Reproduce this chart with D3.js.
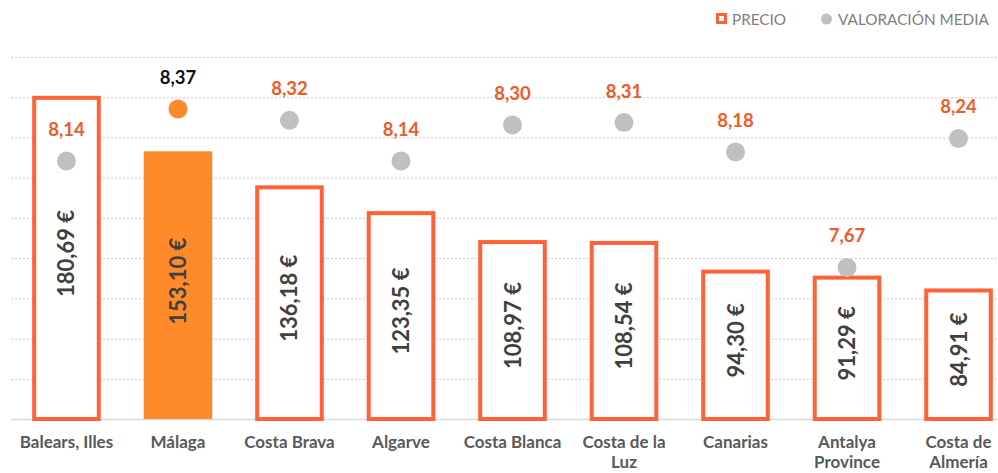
<!DOCTYPE html>
<html><head><meta charset="utf-8">
<script src="https://cdn.jsdelivr.net/npm/d3@7"></script>
<style>body{margin:0;background:#fff}svg{display:block}</style>
</head><body>
<script>
const categories = ["Balears, Illes","Málaga","Costa Brava","Algarve","Costa Blanca","Costa de la Luz","Canarias","Antalya Province","Costa de Almería"];
const categoryLines = [["Balears, Illes"],["Málaga"],["Costa Brava"],["Algarve"],["Costa Blanca"],["Costa de la","Luz"],["Canarias"],["Antalya","Province"],["Costa de","Almería"]];
const precio = [180.69,153.10,136.18,123.35,108.97,108.54,94.30,91.29,84.91];
const precioLabels = ["180,69 €","153,10 €","136,18 €","123,35 €","108,97 €","108,54 €","94,30 €","91,29 €","84,91 €"];
const valoracion = [8.14,8.37,8.32,8.14,8.30,8.31,8.18,7.67,8.24];
const valoracionLabels = ["8,14","8,37","8,32","8,14","8,30","8,31","8,18","7,67","8,24"];
const highlight = "Málaga";
const gridTicks = [20,40,60,80,100,120,140,160,180,200];
const legendLabels = ["PRECIO","VALORACIÓN MEDIA"];

const W=998,H=473;
const svg=d3.select("body").append("svg").attr("width",W).attr("height",H);
const x=d3.scaleBand().domain(categories).range([11,1014]).paddingInner(0.385).paddingOuter(0.19);
const y=d3.scaleLinear().domain([20,200]).range([419,57]);
const y2=d3.scaleLinear().domain([7,8.6]).range([419,57]);
const font="Lato, 'Open Sans', sans-serif";

// gridlines
svg.append("g").selectAll("line").data(gridTicks.slice(1)).join("line")
  .attr("x1",11).attr("x2",998).attr("y1",d=>y(d)+0.5).attr("y2",d=>y(d)+0.5)
  .attr("stroke","#c9c9c9").attr("stroke-width",1).attr("stroke-dasharray","2,2");
// baseline
svg.append("line").attr("x1",11).attr("x2",998).attr("y1",y(20)+0.5).attr("y2",y(20)+0.5)
  .attr("stroke","#d9d9d9").attr("stroke-width",1.5);

const bw=x.bandwidth();
// bars
const gb=svg.append("g");
categories.forEach((c,i)=>{
  const hl=c===highlight;
  if(hl){
    gb.append("rect").attr("x",x(c)).attr("width",bw).attr("y",y(precio[i])).attr("height",y(20)-y(precio[i]))
      .attr("fill","#ff8a2a");
  } else {
    gb.append("rect").attr("x",x(c)+2).attr("width",bw-4).attr("y",y(precio[i])+2).attr("height",y(20)-y(precio[i])-2)
      .attr("fill","#fff").attr("stroke","#ff6138").attr("stroke-width",4);
  }
  const cx=x(c)+bw/2, cy=(y(precio[i])+y(20))/2-4;
  gb.append("text").attr("transform",`translate(${cx+8},${cy}) rotate(-90)`)
    .attr("text-anchor","middle").attr("font-family",font).attr("font-weight","bold")
    .attr("font-size",22).attr("fill","#404040").text(precioLabels[i]);
});

// dots
const gd=svg.append("g");
categories.forEach((c,i)=>{
  const hl=c===highlight;
  const cx=x(c)+bw/2, cy=y2(valoracion[i]);
  gd.append("circle").attr("cx",cx).attr("cy",cy).attr("r",9.5).attr("fill",hl?"#ff8a2a":"#c0c0c0");
  gd.append("text").attr("x",cx).attr("y",cy-25).attr("text-anchor","middle")
    .attr("font-family",font).attr("font-weight","bold").attr("font-size",18.5)
    .attr("fill",hl?"#111":"#ee5a2a").text(valoracionLabels[i]);
});

// category labels
const gl=svg.append("g");
categories.forEach((c,i)=>{
  const t=gl.append("text").attr("text-anchor","middle").attr("font-family",font).attr("font-weight","bold")
    .attr("font-size",17).attr("fill","#595959");
  categoryLines[i].forEach((ln,j)=>{
    t.append("tspan").attr("x",x(c)+bw/2).attr("y",448+j*20).text(ln);
  });
});

// legend
const lg=svg.append("g");
lg.append("rect").attr("x",717.5).attr("y",14.5).attr("width",8).attr("height",8).attr("fill","#fff")
  .attr("stroke","#ff6138").attr("stroke-width",3);
lg.append("text").attr("x",732).attr("y",25).attr("font-family",font).attr("font-size",15.3)
  .attr("fill","#7f7f7f").text(legendLabels[0]);
lg.append("circle").attr("cx",826.5).attr("cy",19).attr("r",5.5).attr("fill","#c0c0c0");
lg.append("text").attr("x",838).attr("y",25).attr("font-family",font).attr("font-size",15.3)
  .attr("fill","#7f7f7f").text(legendLabels[1]);
</script>
</body></html>
